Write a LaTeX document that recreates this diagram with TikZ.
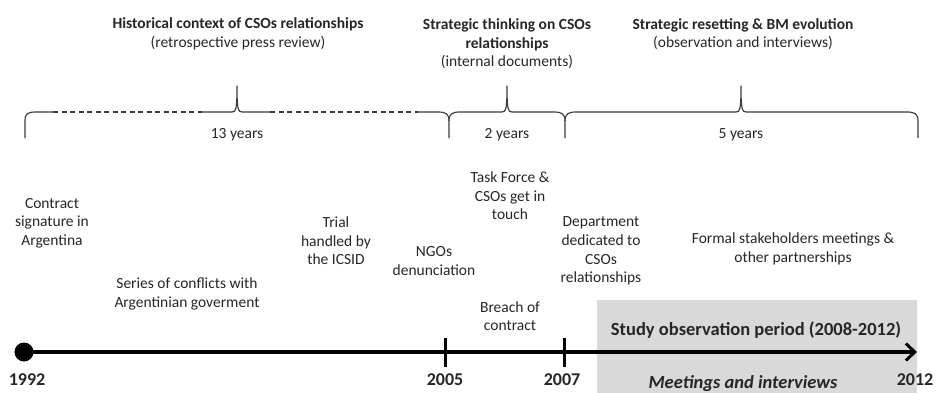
\documentclass[tikz,border=0pt]{standalone}
\usepackage{fontspec}
\setmainfont{Carlito}
\usetikzlibrary{arrows.meta}
\definecolor{txt}{HTML}{262626}
\definecolor{boxgray}{HTML}{D9D9D9}
\definecolor{bracec}{HTML}{3A3A3A}
\begin{document}
\begin{tikzpicture}[x=1pt,y=-1pt,
  lbl/.style={text=txt,font=\fontsize{15.5}{18.6}\selectfont,align=center,inner sep=0pt,yshift=-2pt},
  yr/.style={text=txt,font=\fontsize{18}{20}\selectfont\bfseries,inner sep=0pt},
  bracel/.style={draw=bracec,line width=1.15pt,line join=round},
  dashpart/.style={bracel,dash pattern=on 5pt off 3.5pt},
  timeline/.style={line width=3.8pt,draw=black,-{Straight Barb[length=9pt,width=17pt,line width=3pt]}},
  tickm/.style={line width=3pt,draw=black},
  dot/.style={circle,fill=black,minimum size=19pt,inner sep=0pt},
  obs/.style={fill=boxgray,draw=none,inner sep=0pt,anchor=north west,minimum width=320pt,minimum height=93pt}
]
\useasboundingbox (0,0) rectangle (936,393);
% observation box
\node[obs] (obsbox) at (597,300) {};
\node[yr,font=\fontsize{18.5}{20}\selectfont\bfseries] (obstitle) at (756,330) {Study observation period (2008-2012)};
\node[yr,font=\fontsize{18.5}{20}\selectfont\bfseries\itshape] (meet) at (743,384) {Meetings and interviews};
% top titles
\node[lbl] (h1) at (238,32) {\textbf{Historical context of CSOs relationships}\\(retrospective press review)};
\node[lbl] (h2) at (507,42) {\textbf{Strategic thinking on CSOs}\\\textbf{relationships}\\(internal documents)};
\node[lbl] (h3) at (743,32) {\textbf{Strategic resetting \& BM evolution}\\(observation and interviews)};
% braces
\draw[bracel] (25,138) -- (25,121) .. controls (25,114) and (27,112) .. (36,112) -- (53,112);
\draw[dashpart] (53,112) -- (202,112);
\draw[bracel] (202,112) -- (232,112) .. controls (236,112) and (237,109) .. (237,86) .. controls (237,109) and (238,112) .. (242,112) -- (270,112);
\draw[dashpart] (270,112) -- (418,112);
\draw[bracel] (418,112) -- (438,112) .. controls (446,112) and (449,114) .. (449,121) -- (449,138);
\draw[bracel] (449,121) .. controls (449,114) and (452,112) .. (460,112) -- (502,112) .. controls (506,112) and (507,109) .. (507,86) .. controls (507,109) and (508,112) .. (512,112) -- (554,112) .. controls (562,112) and (565,114) .. (565,121) -- (565,138);
\draw[bracel] (565,121) .. controls (565,114) and (568,112) .. (576,112) -- (736,112) .. controls (740,112) and (741,109) .. (741,86) .. controls (741,109) and (742,112) .. (746,112) -- (907,112) .. controls (915,112) and (918,114) .. (918,121) -- (918,138);
\node[lbl] (d1) at (237,133) {13 years};
\node[lbl] (d2) at (507,133) {2 years};
\node[lbl] (d3) at (741,133) {5 years};
% events
\node[lbl] (e1) at (52,221) {Contract\\signature in\\Argentina};
\node[lbl] (e2) at (187,292) {Series of conflicts with\\Argentinian goverment};
\node[lbl] (e3) at (336,239) {Trial\\handled by\\the ICSID};
\node[lbl] (e4) at (434,259) {NGOs\\denunciation};
\node[lbl] (e5) at (510,194) {Task Force \&\\CSOs get in\\touch};
\node[lbl] (e6) at (510,314) {Breach of\\contract};
\node[lbl] (e7) at (601,249) {Department\\dedicated to\\CSOs\\relationships};
\node[lbl] (e8) at (793,247) {Formal stakeholders meetings \&\\other partnerships};
% timeline
\coordinate (tip) at (917,352);
\coordinate (t2005) at (445,352);
\coordinate (t2007) at (564,352);
\draw[timeline] (24,352) -- (tip);
\node[dot] (start) at (24,352) {};
\draw[tickm] ([yshift=-15pt]t2005) -- ([yshift=14pt]t2005);
\draw[tickm] ([yshift=-15pt]t2007) -- ([yshift=14pt]t2007);
\node[yr] (y1) at (27,380) {1992};
\node[yr] (y2) at (445,380) {2005};
\node[yr] (y3) at (562,380) {2007};
\node[yr] (y4) at (915,380) {2012};
\end{tikzpicture}
\end{document}
